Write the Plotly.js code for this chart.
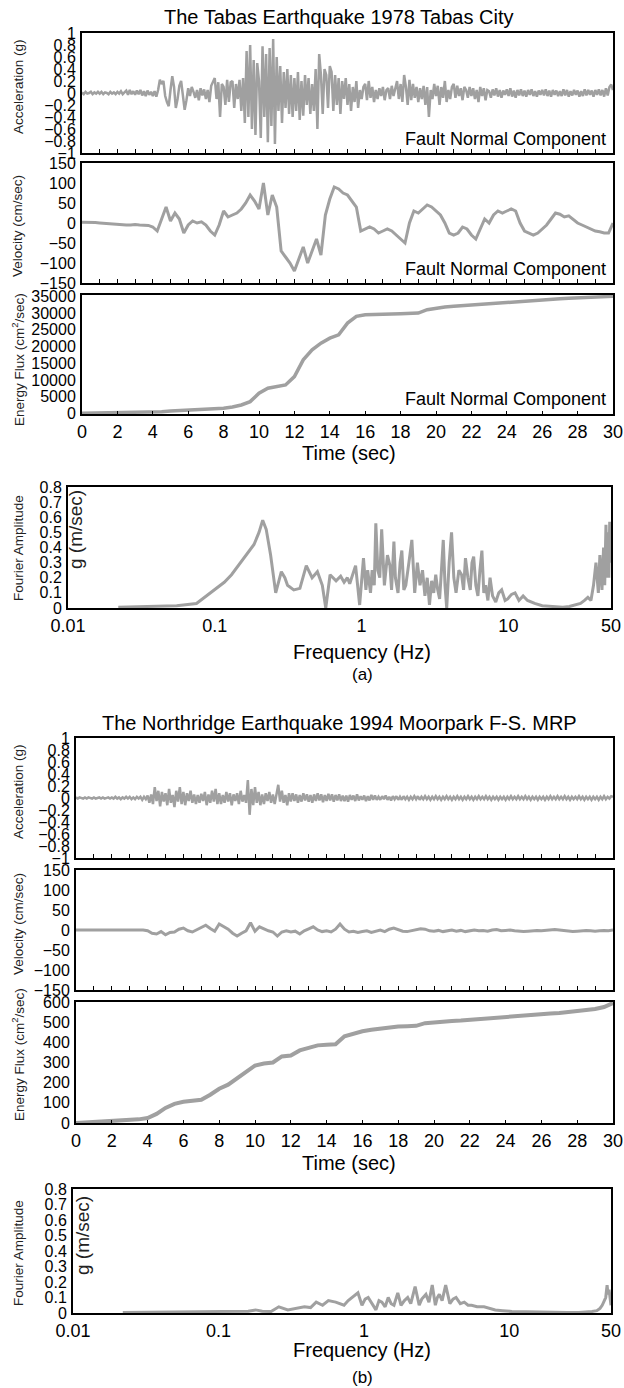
<!DOCTYPE html>
<html><head><meta charset="utf-8">
<script src="https://cdn.plot.ly/plotly-3.0.1.min.js"></script>
<style>html,body{margin:0;padding:0;background:#fff}#chart{width:624px;height:1388px}</style>
</head><body><div id="chart"></div>
<script>
// ---------- DATA ----------
const titleA = "The Tabas Earthquake 1978 Tabas City";
const titleB = "The Northridge Earthquake 1994 Moorpark F-S. MRP";
const componentLabel = "Fault Normal Component";
const accelStep = 0.1, velStep = 0.25, energyStep = 0.5;   // sampling steps (sec)
const timeTicks = [0,2,4,6,8,10,12,14,16,18,20,22,24,26,28,30];
const freqTickVals = [0.01,0.1,1,10,50];
const freqTickText = ["0.01","0.1","1","10","50"];

const accelA = [
 0.01,-0.02,0.02,-0.01,0.00,0.02,-0.02,0.01,-0.01,0.02,
 -0.01,0.02,-0.02,0.01,0.00,-0.02,0.02,-0.01,0.01,-0.02,
 0.02,-0.01,0.03,-0.02,0.01,0.04,-0.03,0.05,-0.02,0.03,
 -0.03,0.04,-0.02,0.05,-0.04,0.03,-0.05,0.04,-0.03,0.02,
 -0.05,0.03,-0.06,0.05,0.22,0.15,0.20,-0.05,-0.15,-0.22,
 0.05,0.28,0.10,-0.25,-0.10,0.12,0.20,-0.05,-0.28,-0.12,
 0.08,-0.05,0.10,0.02,-0.08,0.05,-0.12,0.08,-0.04,0.06,
 -0.10,0.05,-0.15,0.12,0.20,0.25,-0.10,0.18,-0.40,0.15,
 0.10,-0.20,0.22,-0.15,0.18,0.20,-0.25,0.15,-0.10,0.22,
 -0.30,0.25,-0.50,0.70,-0.40,0.80,-0.60,0.55,-0.70,0.50,
 0.20,-0.75,0.78,-0.40,0.65,-0.82,0.75,-0.55,0.90,-0.85,
 0.60,-0.30,0.45,-0.50,0.35,-0.25,0.40,-0.35,0.30,-0.40,
 0.25,-0.30,0.35,-0.45,0.20,-0.38,0.30,-0.20,0.25,-0.35,
 0.15,-0.30,0.40,-0.60,0.65,0.30,-0.35,0.40,0.30,-0.25,
 0.45,0.35,-0.30,0.30,-0.20,0.25,-0.35,0.20,-0.10,0.25,
 -0.20,0.15,-0.30,0.10,-0.15,0.20,-0.25,0.05,-0.10,0.10,
 0.15,-0.12,0.20,-0.08,0.10,-0.15,0.05,-0.10,0.08,-0.05,
 0.10,-0.12,0.05,0.08,-0.10,0.12,-0.05,0.08,0.20,-0.10,
 0.15,-0.15,0.30,0.10,-0.20,0.22,-0.12,0.15,-0.08,0.10,
 -0.15,0.08,-0.10,0.12,-0.20,0.10,-0.40,0.05,-0.10,0.15,
 -0.05,0.12,-0.20,0.10,-0.08,0.20,-0.15,0.05,-0.10,0.10,
 0.15,-0.08,0.12,-0.05,0.08,-0.12,0.10,0.05,-0.08,0.10,
 -0.05,0.08,-0.10,0.05,-0.15,0.10,-0.05,0.08,-0.12,0.05,
 0.03,-0.08,0.06,-0.04,0.08,-0.06,0.05,-0.08,0.04,-0.03,
 0.06,-0.05,0.08,-0.06,0.04,-0.08,0.05,-0.04,0.06,-0.05,
 0.04,-0.06,0.05,-0.03,0.06,-0.05,0.03,-0.06,0.04,-0.03,
 0.05,-0.04,0.06,-0.05,0.04,-0.06,0.05,-0.03,0.04,-0.05,
 0.03,-0.05,0.06,-0.04,0.05,-0.06,0.03,-0.04,0.05,-0.03,
 0.04,-0.06,0.03,-0.05,0.06,-0.04,0.05,-0.03,0.04,-0.06,
 0.05,-0.03,0.06,-0.04,0.05,-0.06,0.08,-0.04,0.10,0.14,
 0.05];

const velocityA = [
 2,2,1,1,0,-1,-2,-3,-4,-4,-5,-5,-4,-5,-5,-6,
 -10,-20,10,40,5,25,10,-25,-5,5,0,3,-5,-20,-30,-5,
 30,15,20,25,35,50,70,55,35,100,20,70,40,-70,-85,-100,
 -120,-90,-60,-100,-70,-40,-80,20,60,90,85,75,70,55,40,-20,
 -15,-10,-15,-25,-20,-15,-20,-30,-40,-50,0,30,25,35,45,40,
 30,20,0,-25,-30,-25,-10,-15,-30,-40,-15,10,0,20,30,25,
 30,35,30,0,-20,-25,-30,-25,-15,-5,10,25,22,15,18,10,
 0,-5,-10,-15,-20,-22,-25,-25,0];

const energyA = [
 0,50,100,120,150,180,200,250,300,500,
 700,800,900,1000,1100,1300,1500,1900,2500,3500,
 6000,7500,8000,8500,11000,16000,19000,21000,22500,23500,
 27000,29000,29500,29500,29600,29700,29800,29900,30000,31000,
 31500,31800,32000,32200,32500,32700,32800,33000,33200,33300,
 33500,33700,34000,34100,34300,34400,34500,34600,34700,34850,
 35000];

const freqA = [
 0.022,0.03,0.04,0.055,0.075,0.1,0.116,0.13,0.149,0.17,
 0.185,0.2,0.212,0.224,0.24,0.26,0.284,0.3,0.313,0.345,
 0.38,0.42,0.46,0.5,0.54,0.57,0.61,0.67,0.72,0.76,
 0.8,0.83,0.87,0.91,0.97,1.03,1.07,1.1,1.15,1.18,
 1.22,1.25,1.29,1.33,1.37,1.4,1.43,1.5,1.56,1.6,
 1.66,1.7,1.77,1.83,1.88,1.94,2.0,2.1,2.2,2.3,
 2.4,2.5,2.6,2.7,2.8,2.9,3.0,3.1,3.2,3.3,
 3.4,3.5,3.6,3.7,3.8,3.95,4.1,4.25,4.4,4.6,
 4.8,4.95,5.1,5.3,5.5,5.65,5.8,6.0,6.2,6.4,
 6.6,6.8,7.0,7.25,7.5,7.8,8.2,8.6,9.0,9.5,
 9.9,10.5,11.1,11.8,12.6,13.5,15.1,17,19.7,23.5,
 26,28.5,31,33,34.8,36.5,38,39.5,41,42,
 43.4,44.5,45.3,46.2,47,47.7,48.3,49,49.5,50];
const ampA = [
 0.005,0.008,0.01,0.015,0.03,0.12,0.17,0.22,0.3,0.37,
 0.42,0.5,0.58,0.52,0.35,0.1,0.24,0.2,0.15,0.12,
 0.13,0.28,0.2,0.24,0.15,0.0,0.22,0.18,0.21,0.17,
 0.2,0.16,0.22,0.28,0.02,0.33,0.12,0.25,0.1,0.25,
 0.15,0.56,0.25,0.2,0.52,0.3,0.15,0.35,0.28,0.12,
 0.44,0.2,0.1,0.3,0.38,0.12,0.15,0.3,0.45,0.1,
 0.3,0.15,0.25,0.08,0.2,0.02,0.18,0.1,0.22,0.12,
 0.06,0.25,0.45,0.15,0.0,0.3,0.5,0.2,0.1,0.25,
 0.22,0.12,0.33,0.2,0.12,0.3,0.34,0.15,0.08,0.25,
 0.38,0.1,0.15,0.05,0.2,0.08,0.04,0.1,0.12,0.05,
 0.06,0.09,0.1,0.05,0.08,0.05,0.03,0.015,0.01,0.005,
 0.01,0.02,0.03,0.05,0.07,0.05,0.15,0.3,0.1,0.35,
 0.12,0.4,0.15,0.55,0.2,0.5,0.2,0.57,0.3,0.55];

const accelB = [
 0.01,-0.01,0.01,0.00,-0.01,0.01,-0.01,0.01,0.00,-0.01,
 0.01,-0.01,0.00,0.01,-0.01,0.01,-0.01,0.00,0.01,-0.01,
 0.01,-0.01,0.02,-0.01,0.01,-0.02,0.01,-0.01,0.02,-0.01,
 0.02,-0.02,0.01,-0.02,0.02,-0.01,0.02,-0.03,0.02,-0.02,
 0.04,-0.08,0.06,-0.10,0.18,-0.05,0.12,-0.14,0.10,-0.06,
 0.08,-0.12,0.15,-0.08,0.05,-0.15,0.12,-0.06,0.18,-0.10,
 0.10,-0.12,0.08,-0.05,0.12,-0.08,0.06,-0.10,0.05,-0.08,
 0.07,-0.05,0.10,-0.12,0.06,-0.08,0.12,-0.06,0.15,-0.10,
 0.08,-0.10,0.05,-0.08,0.10,-0.06,0.08,-0.12,0.06,-0.05,
 0.08,-0.10,0.12,-0.06,0.05,-0.08,0.30,-0.28,0.15,-0.12,
 0.18,-0.08,0.10,-0.12,0.06,-0.10,0.08,-0.05,0.10,-0.08,
 0.06,-0.10,0.05,0.22,-0.06,0.12,-0.08,0.05,-0.12,0.08,
 -0.06,0.08,-0.05,0.06,-0.08,0.05,-0.06,0.08,-0.04,0.06,
 -0.06,0.05,-0.08,0.06,-0.05,0.08,-0.04,0.06,-0.07,0.05,
 -0.05,0.07,-0.04,0.06,-0.06,0.05,-0.04,0.06,-0.05,0.04,
 -0.05,0.04,-0.06,0.05,-0.03,0.04,-0.05,0.06,-0.04,0.03,
 -0.03,0.04,-0.05,0.03,-0.04,0.05,-0.03,0.04,-0.03,0.02,
 -0.03,0.03,-0.02,0.04,-0.03,0.02,-0.04,0.03,-0.02,0.03,
 -0.03,0.02,-0.03,0.03,-0.02,0.02,-0.03,0.02,-0.02,0.03,
 -0.02,0.03,-0.03,0.02,-0.02,0.03,-0.02,0.02,-0.03,0.02,
 -0.02,0.03,-0.02,0.02,-0.03,0.02,-0.02,0.03,-0.02,0.02,
 -0.03,0.02,-0.02,0.03,-0.02,0.02,-0.03,0.02,-0.02,0.03,
 -0.02,0.02,-0.03,0.02,-0.02,0.03,-0.02,0.02,-0.02,0.03,
 -0.02,0.02,-0.03,0.02,-0.02,0.02,-0.03,0.02,-0.02,0.02,
 -0.03,0.02,-0.02,0.03,-0.02,0.02,-0.02,0.03,-0.02,0.02,
 -0.02,0.03,-0.02,0.02,-0.03,0.02,-0.02,0.02,-0.03,0.02,
 -0.02,0.02,-0.03,0.02,-0.02,0.03,-0.02,0.02,-0.02,0.03,
 -0.02,0.02,-0.02,0.03,-0.02,0.02,-0.03,0.02,-0.02,0.02,
 -0.02,0.03,-0.02,0.02,-0.03,0.02,-0.02,0.02,-0.03,0.02,
 -0.02,0.02,-0.03,0.02,-0.02,0.03,-0.02,0.02,-0.01,0.03,
 0.02];

const velocityB = [
 0,0,0,0,0,0,0,1,1,1,0,0,1,1,0,0,
 -2,-8,-10,-4,-12,-6,-5,2,5,-2,-5,0,5,12,4,-3,
 15,8,2,-8,-15,-8,-2,18,-3,8,2,-2,-5,-15,-5,-2,
 -5,-3,-10,-2,3,8,0,-4,-2,-5,2,15,2,-5,-3,-6,
 -4,-2,-6,-3,0,-4,2,5,0,-3,-4,-2,0,3,2,-2,
 -3,-1,-4,-2,0,-3,-1,-4,-2,0,-2,-1,-3,0,1,-2,
 -1,0,-2,-3,-4,-3,-2,-1,-2,-1,0,1,0,-1,-3,-4,
 -3,-2,-1,-2,-3,-2,-1,-2,0];

const energyB = [
 0,2,8,10,12,13,15,18,25,45,
 75,95,105,110,115,140,170,190,220,250,
 285,295,300,330,335,360,370,385,388,390,
 430,445,455,462,468,472,478,480,482,495,
 500,503,506,508,512,515,520,522,527,530,
 533,536,540,543,546,550,555,558,565,575,
 595];

const freqB = [
 0.022,0.04,0.07,0.1,0.13,0.16,0.18,0.2,0.23,0.26,
 0.3,0.34,0.39,0.43,0.47,0.52,0.57,0.64,0.68,0.73,
 0.78,0.83,0.91,0.97,1.02,1.07,1.14,1.21,1.27,1.33,
 1.4,1.47,1.54,1.61,1.71,1.8,1.9,2.0,2.1,2.25,
 2.4,2.5,2.67,2.8,2.95,3.1,3.2,3.3,3.45,3.65,
 3.9,4.1,4.3,4.6,4.9,5.2,5.5,6.0,6.7,7.3,
 8.0,9.0,10.4,13,16,20,25,30,34,37,
 40,42,43.5,45,46,47,47.7,48.5,49.2,50];
const ampB = [
 0.004,0.005,0.006,0.008,0.01,0.012,0.02,0.012,0.01,0.04,
 0.02,0.03,0.04,0.035,0.07,0.05,0.08,0.07,0.06,0.05,
 0.08,0.1,0.13,0.05,0.09,0.1,0.06,0.02,0.08,0.07,
 0.04,0.1,0.06,0.05,0.13,0.05,0.08,0.1,0.06,0.17,
 0.05,0.09,0.12,0.07,0.18,0.05,0.1,0.12,0.08,0.18,
 0.06,0.09,0.1,0.06,0.07,0.05,0.05,0.04,0.04,0.03,
 0.02,0.015,0.01,0.008,0.005,0.004,0.003,0.004,0.006,0.01,
 0.015,0.03,0.05,0.08,0.1,0.18,0.12,0.15,0.08,0.05];

// ---------- BUILD ----------
const W = 624, H = 1388;
function grid(n, step){ const t=[]; for(let i=0;i<n;i++) t.push(+(i*step).toFixed(3)); return t; }
const px = x => x / W;
const py = y => 1 - y / H;
const xd = (a,b) => [px(a), px(b)];
const yd = (top,bot) => [py(bot), py(top)];

const GREY = '#a0a0a0';
const FONT = 'Liberation Sans, Arial, sans-serif';

function line(x, y, xa, ya, w){
  return {x:x, y:y, xaxis:xa, yaxis:ya, type:'scatter', mode:'lines',
          line:{color:GREY, width:w}, hoverinfo:'skip', showlegend:false};
}

const data = [
  line(grid(accelA.length, accelStep), accelA, 'x', 'y', 2.5),
  line(grid(velocityA.length, velStep), velocityA, 'x2', 'y2', 3),
  line(grid(energyA.length, energyStep), energyA, 'x3', 'y3', 3.5),
  line(freqA, ampA, 'x4', 'y4', 3),
  line(grid(accelB.length, accelStep), accelB, 'x5', 'y5', 2.5),
  line(grid(velocityB.length, velStep), velocityB, 'x6', 'y6', 3),
  line(grid(energyB.length, energyStep), energyB, 'x7', 'y7', 4),
  line(freqB, ampB, 'x8', 'y8', 3)
];

const boxAxis = {showline:true, mirror:true, linecolor:'#000', linewidth:2,
                 showgrid:false, zeroline:false, fixedrange:true};
function timeX(dom, anchor, labels){
  return Object.assign({}, boxAxis, {domain:dom, anchor:anchor, range:[0,30],
    tickmode:'array', tickvals: labels ? timeTicks : grid(31,1),
    showticklabels:!!labels, ticks:'inside', ticklen:labels?3:4, tickcolor:'#000', tickwidth:1,
    tickfont:{family:FONT, size:18, color:'#000'}});
}
function valY(dom, anchor, range, dtick, size, fmt){
  return Object.assign({}, boxAxis, {domain:dom, anchor:anchor, range:range,
    tick0:0, dtick:dtick, ticks:'', ticklabelstandoff:1, tickformat:fmt||'',
    tickfont:{family:FONT, size:size, color:'#000'}});
}
function freqX(dom, anchor){
  return Object.assign({}, boxAxis, {domain:dom, anchor:anchor, type:'log',
    range:[-2, Math.log10(50)], tickmode:'array', tickvals:freqTickVals, ticktext:freqTickText,
    ticks:'', tickfont:{family:FONT, size:18, color:'#000'}});
}

const L = {
  width:W, height:H, margin:{l:0,r:0,t:0,b:0}, paper_bgcolor:'#fff', plot_bgcolor:'#fff',
  showlegend:false,
  xaxis:  timeX(xd(82,613), 'y', false),
  yaxis:  valY(yd(33,153), 'x', [-1,1], 0.2, 16),
  xaxis2: timeX(xd(82,613), 'y2', false),
  yaxis2: valY(yd(163,283), 'x2', [-150,150], 50, 16),
  xaxis3: timeX(xd(82,613), 'y3', true),
  yaxis3: valY(yd(295,414), 'x3', [-200,35400], 5000, 16, 'd'),
  xaxis4: freqX(xd(68,611), 'y4'),
  yaxis4: valY(yd(487,608), 'x4', [0,0.8], 0.1, 16),
  xaxis5: timeX(xd(76,613), 'y5', false),
  yaxis5: valY(yd(738,858), 'x5', [-1,1], 0.2, 16),
  xaxis6: timeX(xd(76,613), 'y6', false),
  yaxis6: valY(yd(870,990), 'x6', [-150,150], 50, 16),
  xaxis7: timeX(xd(76,613), 'y7', true),
  yaxis7: valY(yd(1002,1123), 'x7', [0,600], 100, 16, 'd'),
  xaxis8: freqX(xd(73,611), 'y8'),
  yaxis8: valY(yd(1189,1313), 'x8', [0,0.8], 0.1, 16),
  annotations: []
};

function ann(text, x, y, opts){
  L.annotations.push(Object.assign({text:text, x:px(x), y:py(y), xref:'paper', yref:'paper',
    showarrow:false, xanchor:'center', yanchor:'middle',
    font:{family:FONT, size:16, color:'#000'}}, opts||{}));
}
function ytitle(text, x, y, size){
  ann(text, x, y, {textangle:-90, font:{family:FONT, size:size||13.5, color:'#222'}});
}
const big = s => ({family:FONT, size:s, color:'#000'});

// panel (a)
ann(titleA, 339, 17, {font:big(20)});
ann(componentLabel, 608, 139, {xanchor:'right', font:big(18)});
ann(componentLabel, 608, 269, {xanchor:'right', font:big(18)});
ann(componentLabel, 608, 399, {xanchor:'right', font:big(18)});
ytitle('Acceleration (g)', 18, 87);
ytitle('Velocity (cm/sec)', 18, 226);
ytitle('Energy Flux (cm<sup>2</sup>/sec)', 18, 360);
ann('Time (sec)', 349, 453, {font:big(20)});
ytitle('Fourier Amplitude', 18, 548);
ytitle('g (m/sec)', 76, 530, 19);
ann('Frequency (Hz)', 362, 652, {font:big(20)});
ann('(a)', 362, 674, {font:big(17)});

// panel (b)
ann(titleB, 340, 723, {font:big(20)});
ytitle('Acceleration (g)', 18, 792);
ytitle('Velocity (cm/sec)', 18, 924);
ytitle('Energy Flux (cm<sup>2</sup>/sec)', 18, 1055);
ann('Time (sec)', 349, 1163, {font:big(20)});
ytitle('Fourier Amplitude', 18, 1253);
ytitle('g (m/sec)', 82, 1236, 19);
ann('Frequency (Hz)', 362, 1350, {font:big(20)});
ann('(b)', 362, 1377, {font:big(17)});

Plotly.newPlot('chart', data, L, {staticPlot:true, displayModeBar:false});
</script>
</body></html>
